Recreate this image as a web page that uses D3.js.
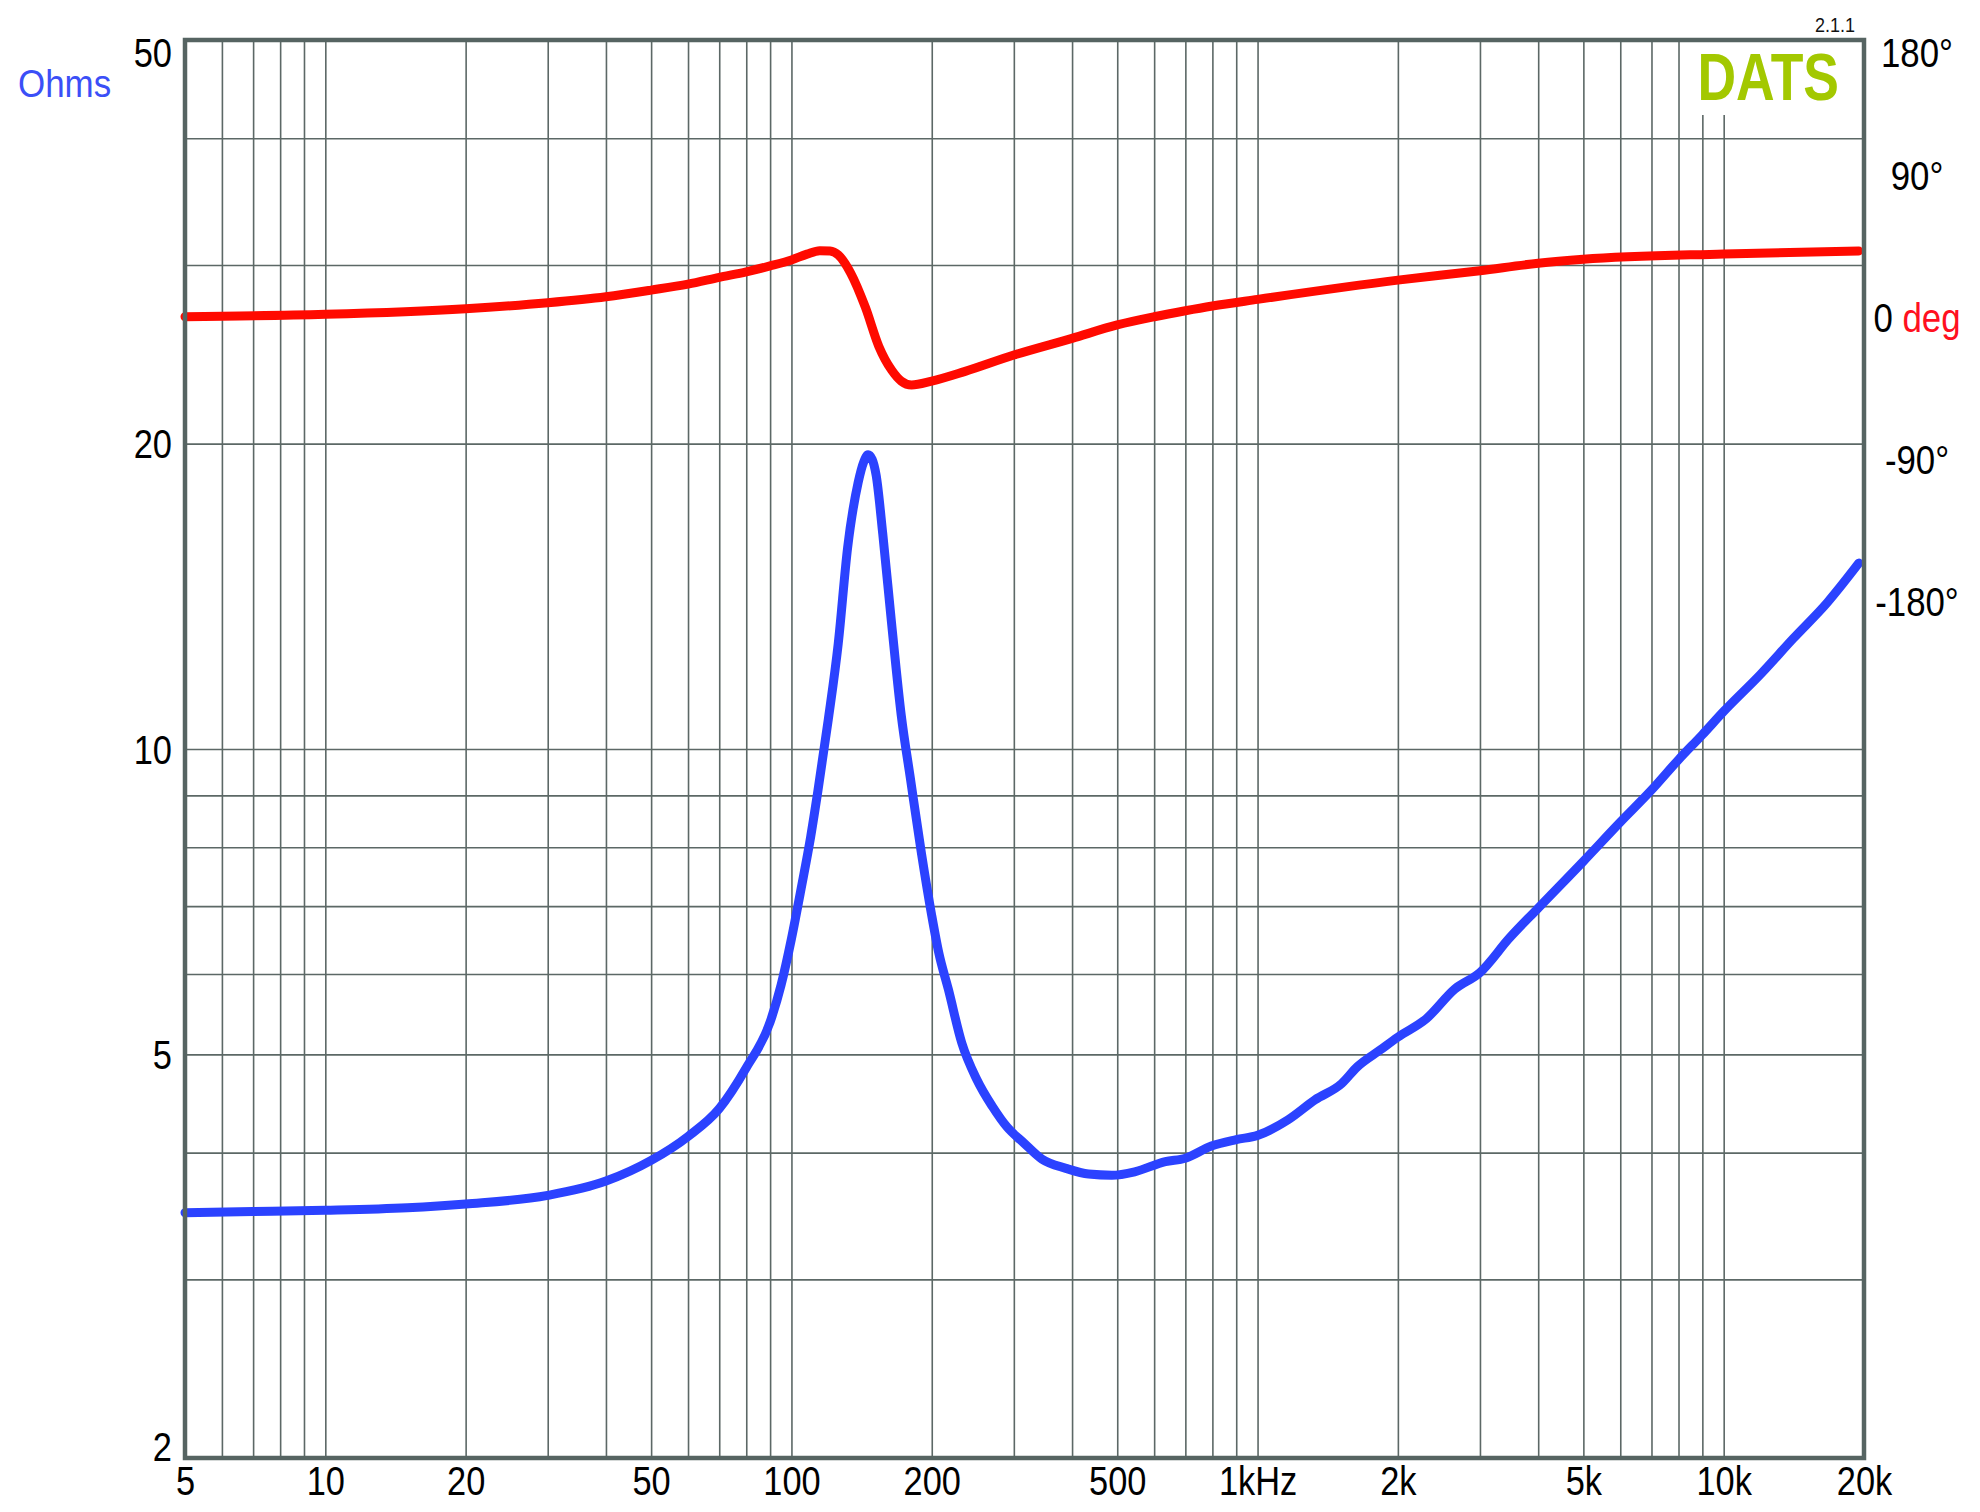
<!DOCTYPE html>
<html><head><meta charset="utf-8">
<script src="https://cdn.jsdelivr.net/npm/d3@7"></script>
<style>
html,body{margin:0;padding:0;background:#fff;}
svg{display:block;}
text{font-family:"Liberation Sans",Arial,sans-serif;}
</style></head>
<body>
<svg id="chart" width="1980" height="1512"></svg>
<script>
// ---- data ----
const impFreq = [5,7,10,15,20,30,40,50,60,70,80,90,95,100,105,110,114,120,126,132,139,143,146,149,152,157,164,172,180,190,200,207,217,232,250,270,290,315,345,388,434,487,545,634,700,796,900,1000,1163,1329,1516,1636,1833,2000,2300,2650,3000,3470,4000,5000,6000,7000,8000,9000,10000,12000,14100,16700,19500];
const impOhms = [3.49,3.50,3.51,3.53,3.56,3.63,3.75,3.93,4.15,4.42,4.85,5.38,5.85,6.5,7.3,8.2,9.1,10.7,12.7,15.8,18.3,19.2,19.5,19.3,18.6,16.3,13.3,10.8,9.35,7.9,6.85,6.3,5.8,5.13,4.72,4.44,4.24,4.09,3.94,3.86,3.81,3.80,3.83,3.92,3.95,4.06,4.12,4.16,4.31,4.51,4.68,4.86,5.05,5.20,5.42,5.80,6.02,6.51,6.97,7.75,8.47,9.11,9.76,10.33,10.89,11.85,12.85,13.95,15.25];
const phaseFreq = [5,10,20,30,40,50,60,70,80,90,100,108,115,121,126,134,144,154,164,172,181,200,235,300,400,500,600,700,800,1000,2000,3000,4000,5000,10000,19500];
const phaseDeg = [0.8,2.3,5.9,9.7,13.5,17.7,21.5,25.8,29.3,33,36.8,40.5,42.7,42.5,40,28.5,7,-18,-33,-40,-42.5,-40,-34,-23.5,-12.9,-4.4,0.8,4.6,7.6,11.8,24,30,34.7,37.2,40.6,42.5];

const gridFreq = [5,6,7,8,9,10,20,30,40,50,60,70,80,90,100,200,300,400,500,600,700,800,900,1000,2000,3000,4000,5000,6000,7000,8000,9000,10000,20000];
const gridOhms = [2,3,4,5,6,7,8,9,10,20,30,40,50];
const freqTicks = [5,10,20,50,100,200,500,1000,2000,5000,10000,20000];
const freqTickLabels = ["5","10","20","50","100","200","500","1kHz","2k","5k","10k","20k"];
const ohmTicks = [50,20,10,5,2];
const phaseTicks = [180,90,0,-90,-180];
const phaseTickLabels = ["180°","90°","0","-90°","-180°"];

// ---- layout ----
const L = 185, R = 1864, T = 40, B = 1458;
const svg = d3.select("#chart");

const x = d3.scaleLog().domain([5,20000]).range([L,R]);
const y = d3.scaleLog().domain([2,50]).range([B,T]);
const yp = d3.scaleLinear().domain([-180,180]).range([602,34]);

const gridColor = "#5c6866";
const frameColor = "#566462";

// horizontal condensing (narrow face look) around the text's x anchor
function condense(sel, k){
  sel.each(function(){
    const t = d3.select(this);
    const tx = +(t.attr("x")||0);
    t.attr("transform",`translate(${tx},0) scale(${k},1) translate(${-tx},0)`);
  });
}

// grid
svg.append("g").attr("transform",`translate(0,${B})`)
  .call(d3.axisBottom(x).tickValues(gridFreq).tickSize(-(B-T)).tickFormat(""))
  .call(g=>{g.select(".domain").remove(); g.selectAll("line").attr("stroke",gridColor).attr("stroke-width",1.6);});
svg.append("g").attr("transform",`translate(${L},0)`)
  .call(d3.axisLeft(y).tickValues(gridOhms).tickSize(-(R-L)).tickFormat(""))
  .call(g=>{g.select(".domain").remove(); g.selectAll("line").attr("stroke",gridColor).attr("stroke-width",1.6);});

// logo background box
svg.append("rect").attr("x",1688).attr("y",T+2).attr("width",R-1688-2).attr("height",115-T-2).attr("fill","#fff");
svg.append("text").attr("x",1839).attr("y",100).attr("text-anchor","end")
  .attr("font-size",66).attr("font-weight","bold").attr("fill","#a3c800").text("DATS")
  .call(s=>condense(s,0.81));
svg.append("text").attr("x",1855).attr("y",32).attr("text-anchor","end")
  .attr("font-size",20).attr("fill","#111").text("2.1.1").call(s=>condense(s,0.9));

// curves
const line = d3.line().curve(d3.curveMonotoneX);
svg.append("path")
  .attr("d", line(phaseFreq.map((f,i)=>[x(f), yp(phaseDeg[i])])))
  .attr("fill","none").attr("stroke","#ff0a00").attr("stroke-width",9)
  .attr("stroke-linecap","round").attr("stroke-linejoin","round");
svg.append("path")
  .attr("d", line(impFreq.map((f,i)=>[x(f), y(impOhms[i])])))
  .attr("fill","none").attr("stroke","#2b42ff").attr("stroke-width",9)
  .attr("stroke-linecap","round").attr("stroke-linejoin","round");

// frame
svg.append("rect").attr("x",L).attr("y",T).attr("width",R-L).attr("height",B-T)
  .attr("fill","none").attr("stroke",frameColor).attr("stroke-width",4.5);

// x axis labels
svg.append("g").attr("transform",`translate(0,${B})`)
  .call(d3.axisBottom(x).tickValues(freqTicks).tickSize(0)
        .tickFormat(d=>freqTickLabels[freqTicks.indexOf(d)]))
  .call(g=>{g.select(".domain").remove();
    g.selectAll("text").attr("x",0).attr("y",37).attr("dy",0).attr("font-size",40)
     .attr("font-family",'"Liberation Sans",Arial,sans-serif').attr("fill","#000")
     .call(s=>condense(s,0.86));});

// y axis labels (ohms)
svg.append("g").attr("transform",`translate(${L},0)`)
  .call(d3.axisLeft(y).tickValues(ohmTicks).tickSize(0).tickFormat(d3.format("d")))
  .call(g=>{g.select(".domain").remove();
    g.selectAll(".tick").attr("transform",d=>{
      const yy = Math.max(T+12, Math.min(B-12, y(d)));
      return `translate(0,${yy})`;});
    g.selectAll("text").attr("x",-13).attr("dy","0.36em").attr("font-size",41)
     .attr("font-family",'"Liberation Sans",Arial,sans-serif').attr("fill","#000")
     .call(s=>condense(s,0.84));});

svg.append("text").attr("x",18).attr("y",97).attr("font-size",38).attr("fill","#3b4ff7").text("Ohms")
  .call(s=>condense(s,0.92));

// right axis (phase)
svg.append("g").attr("transform",`translate(1917,0)`)
  .call(d3.axisRight(yp).tickValues(phaseTicks).tickSize(0)
        .tickFormat(d=>phaseTickLabels[phaseTicks.indexOf(d)]))
  .call(g=>{g.select(".domain").remove();
    g.selectAll(".tick").attr("transform",d=>`translate(0,${Math.max(53, yp(d))})`);
    g.selectAll("text").attr("x",0).attr("dy","0.36em").attr("text-anchor","middle").attr("font-size",40)
     .attr("font-family",'"Liberation Sans",Arial,sans-serif').attr("fill","#000");
    g.selectAll("text").filter(d=>d===0).text("0 ").append("tspan").attr("fill","#ff1020").text("deg");
    g.selectAll("text").call(s=>condense(s,0.87));});
</script>
</body></html>
